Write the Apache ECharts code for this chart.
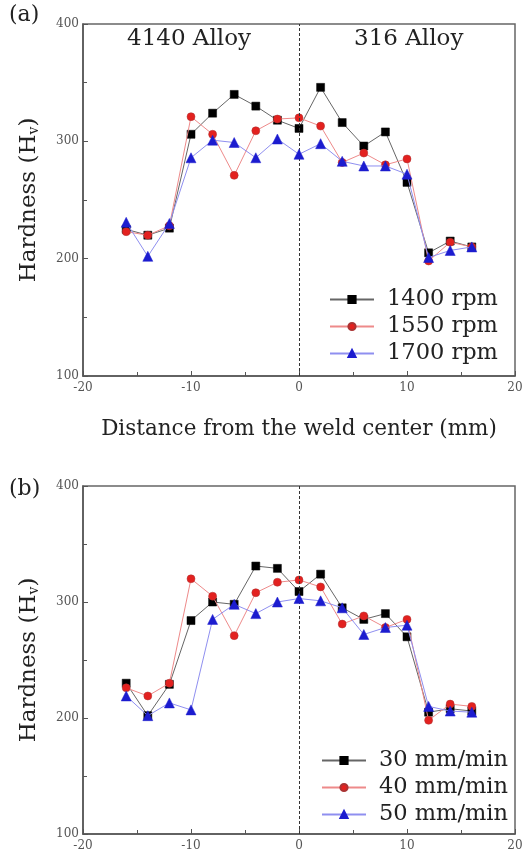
<!DOCTYPE html>
<html>
<head>
<meta charset="utf-8">
<script src="https://cdn.jsdelivr.net/npm/echarts@6/dist/echarts.min.js"></script>
<style>
  html, body { margin: 0; padding: 0; background: #fff; }
  #main { width: 527px; height: 860px; }
</style>
</head>
<body>
<div id="main"></div>
<script>
// distance from the weld center (mm)
var distances = [-16, -14, -12, -10, -8, -6, -4, -2, 0, 2, 4, 6, 8, 10, 12, 14, 16];

// (a) rotation speed
var rpm1400 = [225, 220, 226, 306, 324, 340, 330, 318, 311, 346, 316, 296, 308, 265, 205, 215, 210];
var rpm1550 = [223, 220, 228, 321, 306, 271, 309, 319, 320, 313, 282, 290, 280, 285, 198, 214, 210];
var rpm1700 = [231, 202, 230, 286, 301, 299, 286, 302, 289, 298, 283, 279, 279, 272, 201, 207, 210];

// (b) traverse speed
var feed30 = [230, 202, 229, 284, 300, 298, 331, 329, 309, 324, 295, 285, 290, 270, 205, 208, 206];
var feed40 = [226, 219, 230, 320, 305, 271, 308, 317, 319, 313, 281, 288, 278, 285, 198, 212, 210];
var feed50 = [219, 202, 213, 207, 285, 298, 290, 300, 303, 301, 295, 272, 278, 280, 210, 206, 205];

var namesA = ['1400 rpm', '1550 rpm', '1700 rpm'];
var namesB = ['30 mm/min', '40 mm/min', '50 mm/min'];

var FONT = 'DejaVu Serif';

function pairs(ys) {
    return distances.map(function (x, i) { return [x, ys[i]]; });
}

// marker / line styles for the three series of each panel
var styles = [
    { symbol: 'rect', color: '#000', line: '#666' },
    { symbol: 'circle', color: '#e3211f', line: '#ee8a8a', border: '#a33' },
    { symbol: 'triangle', color: '#1c1ccf', line: '#8f8ff0' }
];

function makeSeries(name, ys, k, gi) {
    var s = styles[k];
    var ser = {
        name: name,
        type: 'line',
        xAxisIndex: gi,
        yAxisIndex: gi,
        data: pairs(ys),
        symbol: s.symbol,
        symbolSize: s.symbol === 'triangle' ? 10 : 8,
        itemStyle: { color: s.color, borderColor: s.border || s.color, borderWidth: 0.5 },
        lineStyle: { color: s.line, width: 1 },
        emphasis: { disabled: true },
        z: 3 + k
    };
    if (k === 0) {
        ser.markLine = {
            silent: true,
            symbol: 'none',
            label: { show: false },
            lineStyle: { color: '#333', type: [3, 2], width: 1 },
            data: [{ xAxis: 0 }]
        };
    }
    return ser;
}

function xAxisOf(gi, withName) {
    var ax = {
        type: 'value',
        gridIndex: gi,
        min: -20, max: 20, interval: 10,
        axisLine: { onZero: false, lineStyle: { color: '#555', width: 1.5 } },
        axisTick: { inside: true, length: 5, lineStyle: { color: '#555' } },
        minorTick: { show: true, splitNumber: 2, length: 4, lineStyle: { color: '#555' } },
        splitLine: { show: false },
        axisLabel: { fontFamily: FONT, fontSize: 12, color: '#555', margin: 6 }
    };
    if (withName) {
        ax.name = 'Distance from the weld center (mm)';
        ax.nameLocation = 'middle';
        ax.nameGap = 42;
        ax.nameTextStyle = { fontFamily: FONT, fontSize: 21.5, color: '#222' };
    }
    return ax;
}

function yAxisOf(gi) {
    return {
        type: 'value',
        gridIndex: gi,
        min: 100, max: 400, interval: 100,
        name: '{m|Hardness (H}{s|v}{m|)}',
        nameLocation: 'middle',
        nameGap: 42,
        nameRotate: 90,
        nameTextStyle: {
            rich: {
                m: { fontFamily: FONT, fontSize: 23, color: '#222' },
                s: { fontFamily: FONT, fontSize: 14, color: '#222', padding: [0, 0, -9, 0] }
            }
        },
        axisLine: { onZero: false, lineStyle: { color: '#555', width: 1.5 } },
        axisTick: { inside: true, length: 5, lineStyle: { color: '#555' } },
        minorTick: { show: true, splitNumber: 2, length: 4, lineStyle: { color: '#555' } },
        splitLine: { show: false },
        axisLabel: { fontFamily: FONT, fontSize: 12, color: '#555', margin: 4 }
    };
}

function legendOf(names, left, top) {
    return {
        data: names,
        orient: 'vertical',
        left: left,
        top: top,
        itemWidth: 44,
        itemHeight: 9,
        itemGap: 4,
        textStyle: { fontFamily: FONT, fontSize: 22.5, color: '#222', lineHeight: 23, padding: [0, 0, 0, 8] },
        selectedMode: false
    };
}

var option = {
    animation: false,
    backgroundColor: '#fff',
    grid: [
        { left: 83, right: 12, top: 24, height: 352, show: true, borderColor: '#666', borderWidth: 1.5 },
        { left: 83, right: 12, top: 486, height: 348, show: true, borderColor: '#666', borderWidth: 1.5 }
    ],
    xAxis: [xAxisOf(0, true), xAxisOf(1, false)],
    yAxis: [yAxisOf(0), yAxisOf(1)],
    legend: [
        legendOf(namesA, 324, 283),
        legendOf(namesB, 316, 744)
    ],
    graphic: [
        { type: 'text', left: 9, top: 4, style: { text: '(a)', font: '22px "' + FONT + '"', fill: '#222' } },
        { type: 'text', left: 9, top: 478, style: { text: '(b)', font: '22px "' + FONT + '"', fill: '#222' } },
        { type: 'text', left: 127, top: 28, style: { text: '4140 Alloy', font: '23px "' + FONT + '"', fill: '#222' } },
        { type: 'text', left: 354, top: 28, style: { text: '316 Alloy', font: '23px "' + FONT + '"', fill: '#222' } }
    ],
    series: [
        makeSeries(namesA[0], rpm1400, 0, 0),
        makeSeries(namesA[1], rpm1550, 1, 0),
        makeSeries(namesA[2], rpm1700, 2, 0),
        makeSeries(namesB[0], feed30, 0, 1),
        makeSeries(namesB[1], feed40, 1, 1),
        makeSeries(namesB[2], feed50, 2, 1)
    ]
};

var chart = echarts.init(document.getElementById('main'), null, { renderer: 'canvas' });
chart.setOption(option);
</script>
</body>
</html>
